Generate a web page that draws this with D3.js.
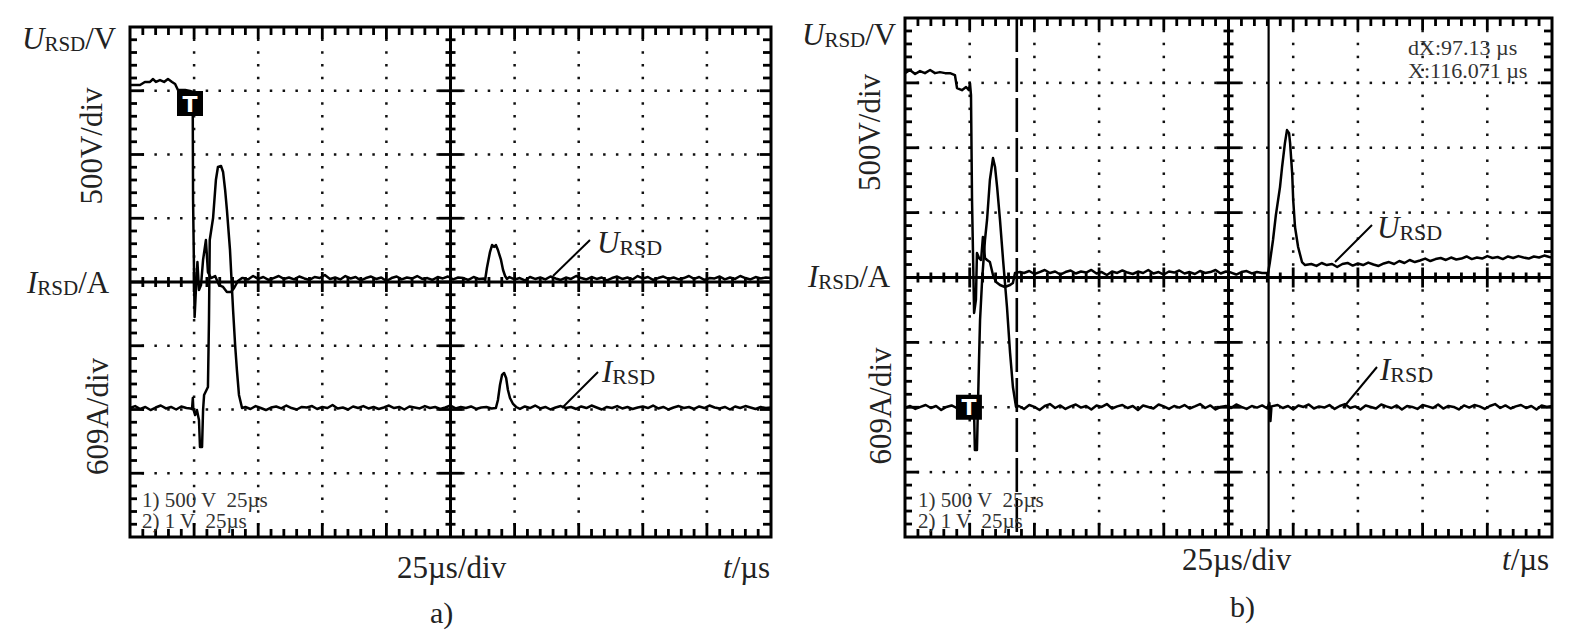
<!DOCTYPE html>
<html><head><meta charset="utf-8">
<script src="https://cdn.jsdelivr.net/npm/d3@7"></script>
<style>
html,body{margin:0;padding:0;background:#fff;}
svg{display:block;font-family:"Liberation Serif","Times New Roman",serif;}
</style></head><body>
<svg id="c" width="1586" height="632"></svg>
<script>
// ================= DATA =================
const usPerDiv = 25, voltsPerDiv = 500, ampsPerDiv = 609;
const panelLetters = ["a)", "b)"];
const channelInfo = ["1) 500 V  25\u00b5s", "2) 1 V  25\u00b5s"];
const readoutB = ["dX:97.13 \u00b5s", "X:116.071 \u00b5s"];
const cursorsB = [43.2, 140.5];          // µs: dashed, solid
const triggerA = [23.4, 1400];           // µs, V (on U trace)
const triggerB = [24.7, 0];              // µs, A (on I trace)

// panel a) voltage U_RSD [µs, V]
const uA = [[0,1545],[2,1545],[3.9,1545],[5.8,1569],[7.8,1569],[9,1592],[10.1,1569],[11.7,1584],[13.3,1569],[14.8,1592],[16.4,1569],[17.6,1553],[18.7,1506],[21.5,1506],[23.4,1498],[24.45,1490],[24.6,643],[25.2,-275],[25.7,-63],[26.3,157],[26.9,-63],[27.7,-24],[28.5,173],[29.6,329],[30.4,78],[31.6,31],[33.2,47],[34.7,-24],[36.3,-39],[37.8,-78],[39.4,-78],[40.6,-47],[42.1,8],[43.7,31],
[44,31],[46,20],[48,47],[50,24],[52,39],[54,16],[56,31],[58,47],[60,24],[62,35],[64,20],[66,43],[68,28],[70,16],[72,39],[74,31],[76,55],[78,24],[80,35],[82,20],[84,47],[86,28],[88,39],[90,12],[92,31],[94,43],[96,24],[98,35],[100,8],[102,31],[104,43],[106,20],[108,35],[110,27],[112,47],[114,24],[116,31],[118,16],[120,39],[122,28],[124,43],[126,20],[128,35],[130,31],[132,16],[134,39],[136,24],[138,28],
[138.5,16],[139.2,110],[140.4,235],[141.2,290],[142,275],[142.7,290],[143.5,251],[144.7,173],[145.5,94],[146.3,47],[147,24],[148,39],
[150,20],[152,31],[154,12],[156,39],[158,24],[160,35],[162,20],[164,43],[166,28],[168,16],[170,35],[172,24],[174,47],[176,31],[178,20],[180,39],[182,24],[184,35],[186,12],[188,31],[190,43],[192,24],[194,35],[196,20],[198,47],[200,28],[202,39],[204,16],[206,31],[208,43],[210,24],[212,35],[214,20],[216,31],[218,47],[220,24],[222,39],[224,16],[226,31],[228,28],[230,43],[232,20],[234,35],[236,24],[238,47],[240,31],[242,20],[244,39],[246,28],[248,35],[250,31]];

// panel a) current I_RSD [µs, A]
const iA = [[0,14],[2,33],[4,5],[6,24],[8,-5],[10,19],[12,38],[14,10],[16,24],[18,0],[20,29],[22,14],[23.6,10],[24.2,5],[24.5,110],[24.7,5],[25.4,-53],[26.1,-5],[26.9,-100],[27.3,-358],[28.1,-358],[28.5,-5],[28.9,139],[30.4,215],[30.8,855],[31.1,1619],[32.4,1829],[33.5,2192],[34.3,2317],[35.5,2326],[36.3,2269],[37.1,2097],[37.8,1906],[39,1524],[40.2,950],[41,616],[41.7,377],[42.5,139],[43.7,14],
[45,24],[47,5],[49,33],[51,14],[53,-5],[55,19],[57,29],[59,10],[61,38],[63,14],[65,0],[67,24],[69,19],[71,33],[73,5],[75,24],[77,14],[79,43],[81,10],[83,19],[85,0],[87,29],[89,14],[91,33],[93,10],[95,24],[97,5],[99,19],[101,38],[103,14],[105,24],[107,0],[109,29],[111,19],[113,10],[115,33],[117,14],[119,24],[121,5],[123,19],[125,38],[127,10],[129,24],[131,14],[133,29],[135,5],[137,19],[139,24],[141,10],[142.7,14],
[143.5,91],[144.3,234],[145.1,330],[145.9,349],[146.7,301],[147.4,186],[148.2,110],[149.4,53],[150.6,24],[152.1,5],
[154,29],[156,14],[158,38],[160,10],[162,24],[164,0],[166,19],[168,33],[170,14],[172,24],[174,5],[176,29],[178,14],[180,38],[182,19],[184,0],[186,24],[188,14],[190,33],[192,10],[194,24],[196,5],[198,19],[200,29],[202,14],[204,38],[206,10],[208,24],[210,0],[212,19],[214,33],[216,14],[218,24],[220,5],[222,29],[224,14],[226,38],[228,19],[230,10],[232,24],[234,0],[236,29],[238,14],[240,33],[242,19],[244,5],[246,24],[248,14],[250,19]];

// panel b) voltage U_RSD [µs, V]
const uB = [[0,1575],[1.9,1599],[3.9,1568],[5.8,1591],[7.7,1575],[9.7,1599],[11.6,1575],[13.5,1583],[15.5,1575],[17.4,1575],[19.3,1560],[20.1,1460],[22,1444],[23.6,1468],[24.7,1444],[25.1,1498],[25.5,1406],[25.9,597],[26.7,-273],[27.4,-173],[27.8,189],[28.6,150],[29.4,135],[30.1,312],[30.9,150],[31.7,135],[32.8,119],[34,19],[35.2,-35],[36.7,-58],[38.6,-73],[40.6,-58],[41.7,-42],[42.5,35],[44.4,42],
[46,35],[48,50],[50,27],[52,42],[54,58],[56,35],[58,46],[60,23],[62,42],[64,54],[66,31],[68,46],[70,38],[72,58],[74,31],[76,42],[78,19],[80,46],[82,35],[84,54],[86,38],[88,27],[90,46],[92,35],[94,58],[96,31],[98,42],[100,23],[102,46],[104,38],[106,54],[108,31],[110,42],[112,27],[114,50],[116,35],[118,42],[120,58],[122,31],[124,46],[126,38],[128,23],[130,42],[132,50],[134,31],[136,42],[138,35],[140.3,35],
[141,119],[142.2,289],[143.3,481],[144.9,697],[145.7,851],[146.8,1036],[147.6,1136],[148.4,1113],[148.8,1036],[149.6,805],[150,597],[150.7,389],[151.9,235],[153.4,119],[154.6,96],
[157,104],[159,89],[161,112],[163,96],[165,104],[167,81],[169,104],[171,112],[173,92],[175,108],[177,96],[179,115],[181,100],[183,89],[185,108],[187,119],[189,104],[191,127],[193,112],[195,135],[197,119],[199,131],[201,146],[203,127],[205,142],[207,150],[209,135],[211,154],[213,139],[215,146],[217,162],[219,142],[221,154],[223,146],[225,165],[227,150],[229,158],[231,142],[233,162],[235,150],[237,165],[239,154],[241,146],[243,162],[245,154],[247,169],[249,158],[250,154]];

// panel b) current I_RSD [µs, A]
const iB = [[0,-7],[2,12],[4,-16],[6,3],[8,21],[10,-7],[12,12],[14,-26],[16,3],[18,17],[20,-7],[22,12],[24,-3],[25.5,8],[26.7,-54],[27,-401],[27.8,-401],[28.2,22],[28.6,444],[29,819],[29.8,1195],[30.9,1570],[31.7,1758],[32.8,2133],[34,2339],[34.8,2255],[35.6,2067],[36.7,1758],[37.9,1382],[39.4,941],[40.6,510],[41.7,190],[42.9,3],
[44,12],[46,-16],[48,21],[50,3],[52,-26],[54,12],[56,30],[58,-7],[60,17],[62,-16],[64,8],[66,26],[68,-3],[70,12],[72,-21],[74,17],[76,3],[78,30],[80,-12],[82,8],[84,21],[86,-7],[88,12],[90,-26],[92,17],[94,3],[96,-12],[98,26],[100,8],[102,-16],[104,12],[106,-3],[108,21],[110,-12],[112,8],[114,30],[116,-7],[118,17],[120,-21],[122,3],[124,12],[126,-7],[128,26],[130,3],[132,-16],[134,12],[136,-3],[138,17],[140,-12],[140.8,40],[141.2,-130],[141.6,8],
[144,21],[146,-7],[148,12],[150,-21],[152,17],[154,3],[156,26],[158,-12],[160,8],[162,-3],[164,21],[166,-16],[168,12],[170,30],[172,-7],[174,8],[176,-21],[178,17],[180,3],[182,-12],[184,26],[186,8],[188,-7],[190,17],[192,-21],[194,12],[196,3],[198,-16],[200,21],[202,8],[204,-7],[206,26],[208,-12],[210,12],[212,3],[214,-21],[216,17],[218,-3],[220,21],[222,8],[224,-16],[226,12],[228,30],[230,-7],[232,17],[234,-12],[236,8],[238,21],[240,-7],[242,12],[244,-21],[246,17],[248,3],[250,12]];

// ================= LAYOUT =================
const panels = [
  {box:[130,27,771,537], u:uA, i:iA, trig:{pos:triggerA, on:"u"}, letter:panelLetters[0],
   uLab:[22,49], iLab:[27,293], vDiv:[101.5,146], aDiv:[108,416.5],
   tLab:[397,578], tUnit:[723,578], letterPos:[430,623], info:[142,507],
   uAnn:{txt:[597,253], l:[[553,276],[590,240]]}, iAnn:{txt:[602,382], l:[[562,408],[598,372]]}},
  {box:[905,18,1552,537], u:uB, i:iB, trig:{pos:triggerB, on:"i"}, letter:panelLetters[1],
   uLab:[802,45], iLab:[808,287], vDiv:[880,132.5], aDiv:[891,406],
   tLab:[1182,570], tUnit:[1502,570], letterPos:[1230,617], info:[918,507],
   uAnn:{txt:[1377,238], l:[[1335,262],[1372,225]]}, iAnn:{txt:[1380,380], l:[[1343,408],[1377,367]]},
   cursors:cursorsB, readout:readoutB, readPos:[1408,55]}
];

const svg = d3.select("#c");
const INK = "#000", TXT = "#222";

function subLabel(g, x, y, main, sub, tail, big, small){
  const t = g.append("text").attr("x",x).attr("y",y).attr("font-size",big).attr("fill",TXT);
  t.append("tspan").attr("font-style","italic").text(main);
  t.append("tspan").attr("font-size",small).attr("dy",2).text(sub);
  if (tail) t.append("tspan").attr("dy",-2).text(tail);
  return t;
}

panels.forEach(p => {
  const [L,T,R,B] = p.box;
  const g = svg.append("g");
  const x = d3.scaleLinear().domain([0, 10*usPerDiv]).range([L,R]);
  const yU = d3.scaleLinear().domain([-4*voltsPerDiv, 4*voltsPerDiv]).range([B,T]);
  const yI = d3.scaleLinear().domain([-2*ampsPerDiv, 6*ampsPerDiv]).range([B,T]);

  const xs = d3.range(1, 50).map(k => ({v:k*usPerDiv/5, major:k%5===0}));
  const ys = d3.range(-19, 20).map(k => ({v:k*voltsPerDiv/5, major:k%5===0}));
  const xc = x(5*usPerDiv), yc = yU(0);

  // dotted grid
  const dots = g.append("g").attr("fill","#111");
  const dot = (cx,cy) => dots.append("rect").attr("x",cx-1.25).attr("y",cy-1.25).attr("width",2.5).attr("height",2.5);
  xs.filter(d => d.major && d.v!==5*usPerDiv).forEach(d => ys.forEach(e => dot(x(d.v), yU(e.v))));
  ys.filter(e => e.major && e.v!==0).forEach(e => xs.forEach(d => dot(x(d.v), yU(e.v))));

  // ticks
  const tk = g.append("g").attr("fill",INK);
  const vbar = (cx, y0, y1) => tk.append("rect").attr("x",cx-1.4).attr("width",2.8).attr("y",Math.min(y0,y1)).attr("height",Math.abs(y1-y0));
  const hbar = (cy, x0, x1) => tk.append("rect").attr("y",cy-1.4).attr("height",2.8).attr("x",Math.min(x0,x1)).attr("width",Math.abs(x1-x0));
  xs.forEach(d => {
    const X = x(d.v);
    vbar(X, T, T + (d.major?12:8));
    vbar(X, B, B - (d.major?14:8));
    const c = d.major?10:5;
    vbar(X, yc-c, yc+c);
  });
  ys.forEach(e => {
    const Y = yU(e.v);
    hbar(Y, L, L + (e.major?14:7));
    hbar(Y, R, R - (e.major?11:8));
    const c = e.major?12:5;
    hbar(Y, xc-c, xc+c);
  });

  // center axes
  g.append("line").attr("x1",xc).attr("x2",xc).attr("y1",T).attr("y2",B).attr("stroke",INK).attr("stroke-width",3);
  g.append("line").attr("x1",L).attr("x2",R).attr("y1",yc).attr("y2",yc).attr("stroke",INK).attr("stroke-width",3);

  // cursors
  if (p.cursors){
    g.append("line").attr("x1",x(p.cursors[0])).attr("x2",x(p.cursors[0])).attr("y1",T).attr("y2",B)
      .attr("stroke",INK).attr("stroke-width",2.6).attr("stroke-dasharray","34,6");
    g.append("line").attr("x1",x(p.cursors[1])).attr("x2",x(p.cursors[1])).attr("y1",T).attr("y2",B)
      .attr("stroke",INK).attr("stroke-width",2.2);
  }

  // traces
  const lineU = d3.line().x(d=>x(d[0])).y(d=>yU(d[1]));
  const lineI = d3.line().x(d=>x(d[0])).y(d=>yI(d[1]));
  g.append("path").attr("d",lineI(p.i)).attr("fill","none").attr("stroke",INK).attr("stroke-width",2.5).attr("stroke-linejoin","round");
  g.append("path").attr("d",lineU(p.u)).attr("fill","none").attr("stroke",INK).attr("stroke-width",2.5).attr("stroke-linejoin","round");

  // box
  g.append("rect").attr("x",L).attr("y",T).attr("width",R-L).attr("height",B-T)
    .attr("fill","none").attr("stroke",INK).attr("stroke-width",3);

  // trigger marker
  const tx = x(p.trig.pos[0]), ty = (p.trig.on==="u"?yU:yI)(p.trig.pos[1]);
  g.append("rect").attr("x",tx-13).attr("y",ty-12.5).attr("width",26).attr("height",25).attr("fill","#000");
  g.append("text").attr("x",tx).attr("y",ty+8).attr("text-anchor","middle").attr("fill","#fff")
    .attr("font-family","DejaVu Sans").attr("font-weight","bold").attr("font-size",22).text("T");

  // labels
  subLabel(g, p.uLab[0], p.uLab[1], "U", "RSD", "/V", 31, 21);
  subLabel(g, p.iLab[0], p.iLab[1], "I", "RSD", "/A", 31, 21);
  g.append("text").attr("transform",`translate(${p.vDiv[0]},${p.vDiv[1]}) rotate(-90)`)
    .attr("text-anchor","middle").attr("font-size",31).attr("fill",TXT).text(voltsPerDiv+"V/div");
  g.append("text").attr("transform",`translate(${p.aDiv[0]},${p.aDiv[1]}) rotate(-90)`)
    .attr("text-anchor","middle").attr("font-size",31).attr("fill",TXT).text(ampsPerDiv+"A/div");
  g.append("text").attr("x",p.tLab[0]).attr("y",p.tLab[1]).attr("font-size",31).attr("fill",TXT).text(usPerDiv+"\u00b5s/div");
  const tu = g.append("text").attr("x",p.tUnit[0]).attr("y",p.tUnit[1]).attr("font-size",31).attr("fill",TXT);
  tu.append("tspan").attr("font-style","italic").text("t");
  tu.append("tspan").text("/\u00b5s");
  g.append("text").attr("x",p.letterPos[0]).attr("y",p.letterPos[1]).attr("font-size",30).attr("fill",TXT).text(p.letter);

  // channel info
  channelInfo.forEach((s,k)=>{
    g.append("text").attr("x",p.info[0]).attr("y",p.info[1]+k*21).attr("font-size",21)
      .attr("fill","#333").style("white-space","pre").text(s);
  });
  if (p.readout){
    p.readout.forEach((s,k)=>{
      g.append("text").attr("x",p.readPos[0]).attr("y",p.readPos[1]+k*23).attr("font-size",22)
        .attr("fill","#333").style("white-space","pre").text(s);
    });
  }

  // trace annotations
  [[p.uAnn,"U"],[p.iAnn,"I"]].forEach(([a,m])=>{
    g.append("line").attr("x1",a.l[0][0]).attr("y1",a.l[0][1]).attr("x2",a.l[1][0]).attr("y2",a.l[1][1])
      .attr("stroke",INK).attr("stroke-width",2);
    subLabel(g, a.txt[0], a.txt[1], m, "RSD", null, 31, 22);
  });
});
</script>
</body></html>
